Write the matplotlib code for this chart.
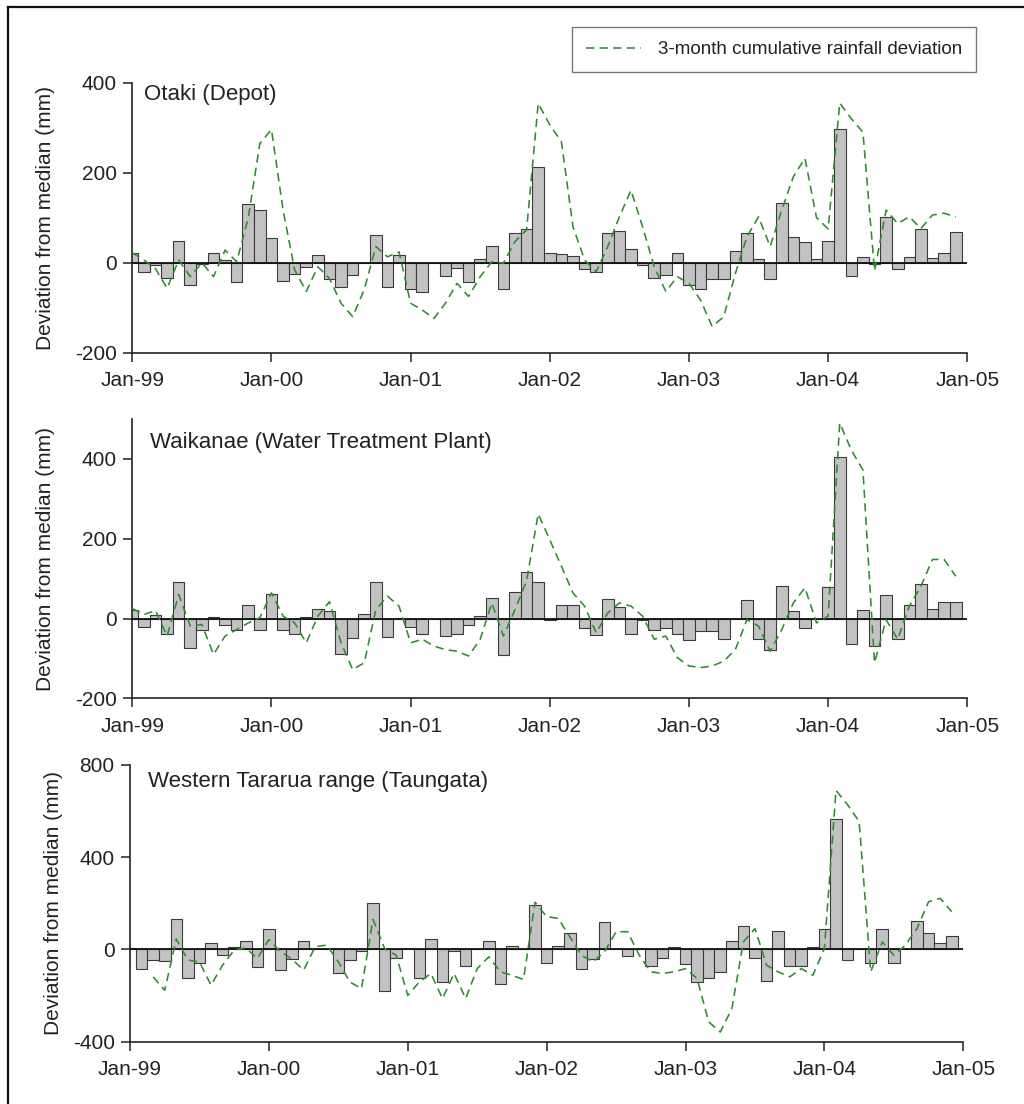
import numpy as np
import matplotlib
matplotlib.use("Agg")
import matplotlib.pyplot as plt
from matplotlib.lines import Line2D

plt.rcParams['font.family'] = ['Liberation Sans', 'DejaVu Sans']

# monthly index 0 = Jan-99 ... 71 = Dec-04
tickLabels = ["Jan-99", "Jan-00", "Jan-01", "Jan-02", "Jan-03", "Jan-04", "Jan-05"]

otakiBars = [22, -20, -5, -33, 49, -50, -3, 21, 5, -42, 130, 117,
             54, -40, -24, -9, 18, -37, -55, -27, 0, 62, -53, 18,
             -59, -64, 0, -29, -11, -42, 9, 38, -59, 67, 75, 213,
             22, 19, 15, -15, -20, 65, 71, 30, -5, -33, -27, 22,
             -50, -59, -37, -37, 27, 67, 8, -37, 133, 58, 45, 8,
             49, 298, -29, 13, -3, 102, -15, 13, 75, 10, 22, 68]
otakiLine = [22, 6, -13, -57, 6, -31, 0, -31, 28, 2, 100, 265,
             296, 117, -16, -64, -9, -35, -90, -120, -60, 36, 13, 24,
             -90, -105, -124, -90, -46, -75, -31, 2, -1, 47, 73, 354,
             306, 269, 80, 6, -20, 36, 102, 161, 80, -9, -64, -31,
             -46, -83, -142, -120, -24, 58, 102, 36, 117, 191, 232, 100,
             75, 355, 320, 290, -18, 117, 87, 102, 76, 106, 110, 102]

waikanaeBars = [22, -22, 10, -38, 92, -73, -28, 3, -17, -30, 35, -28,
                62, -28, -38, 3, 25, 18, -88, -48, 12, 91, -47, 0,
                -22, -38, 0, -44, -38, -17, 6, 52, -92, 66, 116, 91,
                -3, 35, 35, -23, -42, 50, 28, -38, -5, -28, -23, -38,
                -54, -32, -32, -52, 0, 46, -52, -79, 82, 20, -25, 0,
                79, 404, -65, 22, -68, 60, -52, 35, 87, 24, 41, 41]
waikanaeLine = [25, 10, 20, -44, 60, -19, -15, -90, -44, -28, -11, 2,
                64, 6, -11, -61, 6, 42, -61, -128, -111, 22, 56, 31,
                -61, -52, -69, -78, -82, -94, -52, 39, -44, 22, 95, 262,
                197, 131, 64, 31, -36, 14, 39, 31, 6, -52, -44, -98,
                -119, -123, -119, -107, -78, -3, -19, -82, -28, 39, 77, -11,
                6, 490, 422, 372, -111, -3, -52, 31, 81, 148, 148, 106]

tararuaBars = [5, -83, -46, -51, 130, -123, -60, 26, -25, 10, 36, -78,
               88, -90, -42, 36, 0, 0, -100, -46, -5, 200, -180, -36,
               0, -123, 45, -143, -5, -72, 0, 36, -151, 14, 0, 193,
               -57, 14, 70, -83, -42, 117, 0, -29, 0, -71, -36, 9,
               -65, -141, -123, -97, 38, 101, -36, -136, 80, -71, -71, 9,
               88, 565, -46, 0, -57, 88, -57, 0, 125, 70, 26, 59]
tararuaLine = [np.nan, np.nan, -119, -177, 45, -46, -54, -155, -68, -3, 7, -39,
               43, -10, -42, -90, 12, 19, -54, -141, -170, 130, 4, -25,
               -199, -141, -104, -213, -104, -213, -83, -32, -97, -112, -130, 205,
               142, 135, 55, -25, -54, -10, 77, 77, -25, -97, -104, -97,
               -83, -126, -314, -358, -257, 33, 91, -68, -97, -119, -83, -112,
               4, 690, 628, 555, -97, 33, -25, 19, 91, 207, 222, 164]

panelTitles = ["Otaki (Depot)", "Waikanae (Water Treatment Plant)",
               "Western Tararua range (Taungata)"]
yLimits = [(-200, 400), (-200, 500), (-400, 800)]
yTicks = [[-200, 0, 200, 400], [-200, 0, 200, 400], [-400, 0, 400, 800]]

textColor = "#222222"
lineColor = "#2e8b2e"


def drawPanel(ax, bars, line, title, ylim, yticks, titlePos, labelX):
    months = np.arange(len(bars))
    ax.bar(months, bars, width=1.0, color="#c2c2c2", edgecolor="#3a3a3a",
           linewidth=0.8, zorder=2)
    ax.axhline(0, color="#111111", linewidth=1.3, zorder=3)
    handle, = ax.plot(months, line, color=lineColor, linewidth=1.15,
                      dashes=(5.2, 3.3), zorder=4)

    ax.set_xlim(0, 72)
    ax.set_ylim(*ylim)
    ax.set_xticks(np.arange(0, 73, 12))
    ax.set_xticklabels(tickLabels)
    ax.set_yticks(yticks)
    ax.set_yticklabels([str(v) for v in yticks])

    for side in ["top", "right"]:
        ax.spines[side].set_visible(False)
    for side in ["left", "bottom"]:
        ax.spines[side].set_color("#222222")
        ax.spines[side].set_linewidth(1.2)

    ax.tick_params(axis="both", direction="out", length=6.5, width=1.1,
                   color="#222222", labelsize=15, labelcolor=textColor)
    ax.tick_params(axis="x", pad=7)
    ax.tick_params(axis="y", pad=4.5)

    ax.set_ylabel("Deviation from median (mm)", fontsize=15, color=textColor)
    ax.yaxis.set_label_coords(labelX, 0.5)
    ax.text(titlePos[0], titlePos[1], title, transform=ax.transAxes, fontsize=16,
            color=textColor, ha="left", va="top")
    return handle


fig = plt.figure(figsize=(10.24, 11.04), dpi=100)
W, H = 1024.0, 1104.0

# panel frames in pixels: left, right, top, bottom
frames = [(132.3, 967.3, 82.7, 352.7),
          (132.3, 967.3, 419.0, 698.3),
          (130.0, 963.3, 765.0, 1041.7)]
titlePositions = [(0.014, 0.995), (0.021, 0.955), (0.022, 0.98)]
labelXs = [-0.093, -0.093, -0.081]
seriesBars = [otakiBars, waikanaeBars, tararuaBars]
seriesLines = [otakiLine, waikanaeLine, tararuaLine]

handle = None
for k in range(3):
    left, right, top, bottom = frames[k]
    ax = fig.add_axes([left / W, 1 - bottom / H, (right - left) / W, (bottom - top) / H])
    h = drawPanel(ax, seriesBars[k], seriesLines[k], panelTitles[k],
                  yLimits[k], yTicks[k], titlePositions[k], labelXs[k])
    if handle is None:
        handle = h

leg = fig.legend([handle], ["3-month cumulative rainfall deviation"],
                 loc="upper right", bbox_to_anchor=(976 / W, 1 - 27 / H),
                 fontsize=13.5, frameon=True, fancybox=False, framealpha=1,
                 edgecolor="#777777", borderaxespad=0, borderpad=0.75,
                 handlelength=2.9, handletextpad=0.9)
leg.get_frame().set_linewidth(1.0)
for t in leg.get_texts():
    t.set_color(textColor)

# outer frame on the top and left edges
fig.add_artist(Line2D([8 / W, 8 / W], [0, 1 - 7 / H], transform=fig.transFigure,
                      color="#111111", linewidth=1.6))
fig.add_artist(Line2D([8 / W, 1], [1 - 7 / H, 1 - 7 / H], transform=fig.transFigure,
                      color="#111111", linewidth=1.6))

fig.savefig("out.png", dpi=100, facecolor="white")
